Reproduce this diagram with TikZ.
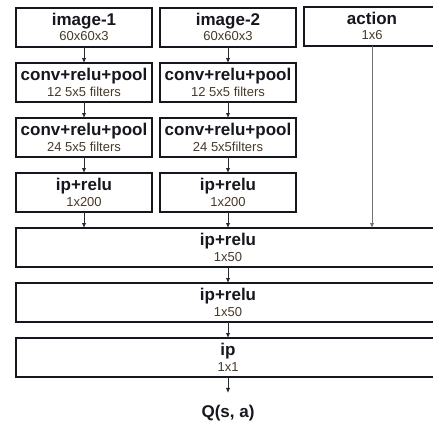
\documentclass[tikz,border=0pt]{standalone}
\usepackage{fontspec}
\setmainfont{Liberation Sans}
\usetikzlibrary{arrows.meta}
\definecolor{edge}{RGB}{22,22,30}
\definecolor{arrowc}{RGB}{40,40,48}
\definecolor{subtext}{RGB}{70,56,42}
\tikzset{
  layer/.style={draw=edge, line width=2pt, outer sep=0pt, inner sep=0pt,
    minimum height=39pt, align=center, font=\fontsize{13}{15.5}\selectfont,
    text=subtext},
  narrow/.style={layer, minimum width=136pt},
  wide/.style={layer, minimum width=424pt},
  flow/.style={-{Latex[length=5pt,width=4.5pt]}, line width=0.9pt, draw=arrowc},
  longflow/.style={flow, draw=black!55},
  outlabel/.style={font=\fontsize{17}{17}\selectfont\bfseries, text=edge, inner ysep=12pt, inner xsep=0pt}
}
\newcommand{\ttl}[1]{{\fontsize{17}{15}\selectfont\bfseries\color{edge}#1}}
\begin{document}
\begin{tikzpicture}[x=1pt,y=1pt]
\useasboundingbox (0,0) rectangle (433,-424);
\clip (0,0) rectangle (433,-424);
% top row
\node[narrow] (i1) at (84,-27) {\ttl{image-1}\\60x60x3};
\node[narrow] (i2) at (228,-27) {\ttl{image-2}\\60x60x3};
\node[narrow] (act) at (372,-26) {\ttl{action}\\1x6};
% conv 1
\node[narrow] (c1a) at (84,-82.5) {\ttl{conv+relu+pool}\\12 5x5 filters};
\node[narrow] (c2a) at (228,-82.5) {\ttl{conv+relu+pool}\\12 5x5 filters};
% conv 2
\node[narrow] (c1b) at (84,-137.5) {\ttl{conv+relu+pool}\\24 5x5 filters};
\node[narrow] (c2b) at (228,-137.5) {\ttl{conv+relu+pool}\\24 5x5filters};
% ip 1x200
\node[narrow] (p1) at (84,-192.5) {\ttl{ip+relu}\\1x200};
\node[narrow] (p2) at (228,-192.5) {\ttl{ip+relu}\\1x200};
% wide
\node[wide] (w1) at (228,-247.5) {\ttl{ip+relu}\\1x50};
\node[wide] (w2) at (228,-302.5) {\ttl{ip+relu}\\1x50};
\node[wide] (w3) at (228,-357.5) {\ttl{ip}\\1x1};
\node[outlabel] (q) at (228,-413) {Q(s, a)};
% arrows
\draw[flow] (i1) -- (c1a);
\draw[flow] (i2) -- (c2a);
\draw[flow] (c1a) -- (c1b);
\draw[flow] (c2a) -- (c2b);
\draw[flow] (c1b) -- (p1);
\draw[flow] (c2b) -- (p2);
\draw[flow] (p1.south) -- (p1.south |- w1.north);
\draw[flow] (p2.south) -- (p2.south |- w1.north);
\draw[longflow] (act.south) -- (act.south |- w1.north);
\draw[flow] (w1) -- (w2);
\draw[flow] (w2) -- (w3);
\draw[flow] (w3) -- (q);
\end{tikzpicture}
\end{document}
